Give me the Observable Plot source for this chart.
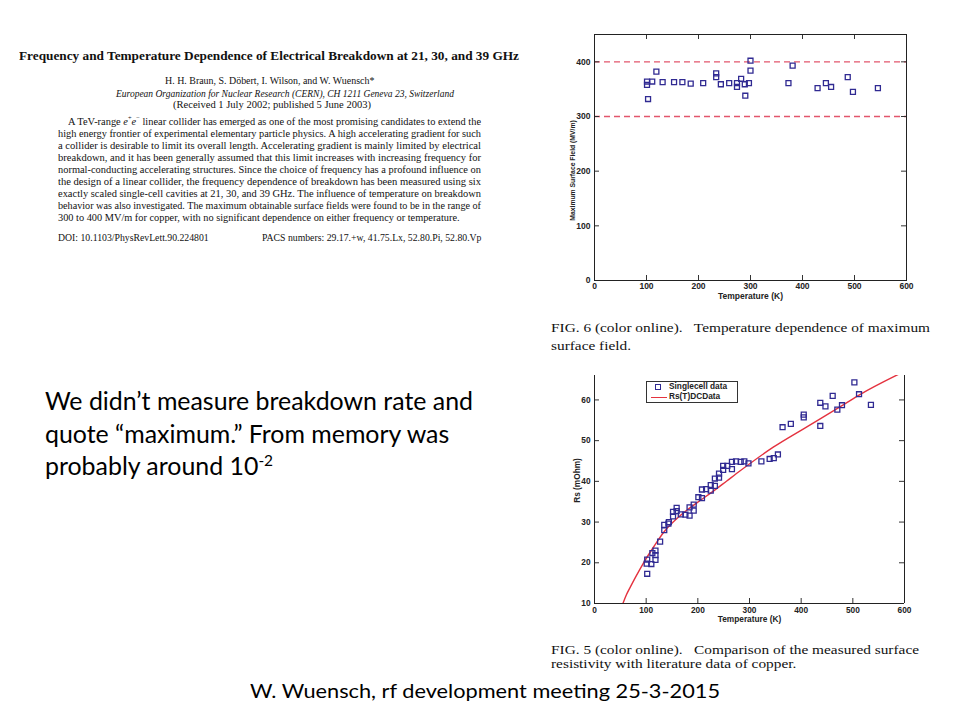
<!DOCTYPE html>
<html>
<head>
<meta charset="utf-8">
<script src="https://cdn.jsdelivr.net/npm/d3@7"></script>
<script src="https://cdn.jsdelivr.net/npm/@observablehq/plot@0.6"></script>
<style>
html, body { margin: 0; padding: 0; background: #fff; }
#slide { position: relative; width: 960px; height: 720px; overflow: hidden; background: #fff; }
.abs { position: absolute; white-space: nowrap; }
.abs sup { font-size: 0.62em; vertical-align: super; line-height: 0; }
.chart { position: absolute; }
#legend { position: absolute; border: 1px solid #333; background: #fff; font-family: "Liberation Sans", Arial, sans-serif; font-weight: bold; font-size: 8.3px; color: #222; }
</style>
</head>
<body>
<div id="slide"></div>
<script>
// ---------- data: Fig. 6 (maximum surface field vs temperature) ----------
const fieldTemp = [101, 101, 103, 111, 119, 131, 153, 169, 185, 209, 234, 234, 243, 259, 274, 274, 282, 289, 290, 297, 300, 300, 373, 381, 429, 445, 455, 487, 497, 545];
const fieldMax  = [364, 358, 332, 364, 382, 363, 363, 363, 360, 361, 379, 372, 359, 361, 361, 354, 369, 359, 338, 361, 402, 384, 361, 393, 352, 361, 354, 372, 345, 352];
const fieldLimits = [300, 400];
const tempTicks = [0, 100, 200, 300, 400, 500, 600];
const fieldTicks = [0, 100, 200, 300, 400];

// ---------- data: Fig. 5 (surface resistivity vs temperature) ----------
const rsTemp  = [102, 101, 102, 110, 112, 118, 118, 118, 127, 135, 135, 143, 144, 152, 152, 159, 159, 167, 176, 184, 184, 192, 192, 201, 208, 208, 216, 225, 225, 233, 233, 241, 241, 249, 249, 257, 266, 266, 274, 283, 290, 298, 323, 339, 347, 355, 364, 380, 405, 405, 437, 437, 447, 461, 470, 479, 503, 512, 535];
const rsValue = [17.3, 19.8, 20.8, 19.7, 22.4, 20.7, 21.9, 23.0, 25.2, 28.0, 29.3, 29.6, 30.0, 31.4, 32.5, 33.5, 32.7, 31.9, 31.8, 31.6, 33.6, 32.8, 34.3, 36.1, 35.9, 38.0, 38.1, 37.7, 39.1, 38.9, 40.7, 40.9, 41.9, 42.8, 43.8, 43.8, 43.0, 44.8, 44.9, 44.8, 44.9, 44.4, 44.9, 45.5, 45.7, 46.6, 53.3, 54.1, 55.7, 56.4, 53.6, 59.3, 58.4, 61.0, 57.6, 58.7, 64.3, 61.4, 58.8];
const curveTemp = [55, 62, 70, 80, 95, 115, 134, 166, 198, 230, 256, 282, 346, 411, 475, 512, 590];
const curveRs   = [10, 12.2, 14.2, 16.6, 20, 24, 27.5, 31.6, 34.7, 37.6, 40.1, 42.6, 48.4, 53.4, 58.3, 61.2, 66.4];
const rsTicks = [10, 20, 30, 40, 50, 60];
const legendLabels = ["Singlecell data", "Rs(T)DCData"];

// ---------- texts ----------
const paperTitle = "Frequency and Temperature Dependence of Electrical Breakdown at 21, 30, and 39 GHz";
const paperAuthors = "H. H. Braun, S. Döbert, I. Wilson, and W. Wuensch*";
const paperAffil = "European Organization for Nuclear Research (CERN), CH 1211 Geneva 23, Switzerland";
const paperDates = "(Received 1 July 2002; published 5 June 2003)";
const abstractLines = [
  "A TeV-range <i>e</i><sup>+</sup><i>e</i><sup>−</sup> linear collider has emerged as one of the most promising candidates to extend the",
  "high energy frontier of experimental elementary particle physics. A high accelerating gradient for such",
  "a collider is desirable to limit its overall length. Accelerating gradient is mainly limited by electrical",
  "breakdown, and it has been generally assumed that this limit increases with increasing frequency for",
  "normal-conducting accelerating structures. Since the choice of frequency has a profound influence on",
  "the design of a linear collider, the frequency dependence of breakdown has been measured using six",
  "exactly scaled single-cell cavities at 21, 30, and 39 GHz. The influence of temperature on breakdown",
  "behavior was also investigated. The maximum obtainable surface fields were found to be in the range of",
  "300 to 400 MV/m for copper, with no significant dependence on either frequency or temperature."
];
const doiText = "DOI: 10.1103/PhysRevLett.90.224801";
const pacsText = "PACS numbers: 29.17.+w, 41.75.Lx, 52.80.Pi, 52.80.Vp";
const fig6Caption = ["FIG. 6 (color online).&nbsp;&nbsp; Temperature dependence of maximum", "surface field."];
const fig5Caption = ["FIG. 5 (color online).&nbsp;&nbsp; Comparison of the measured surface", "resistivity with literature data of copper."];
const noteLines = ["We didn’t measure breakdown rate and", "quote “maximum.” From memory was", "probably around 10<sup>-2</sup>"];
const footerText = "W. Wuensch, rf development meeting 25-3-2015";

const slide = document.getElementById("slide");
const SERIF = '"Liberation Serif", "DejaVu Serif", serif';
const SANS = 'Lato, "Open Sans", "Liberation Sans", sans-serif';

function addText(html, o) {
  const el = document.createElement("div");
  el.className = "abs";
  el.innerHTML = html;
  Object.assign(el.style, {
    fontFamily: o.font, fontSize: o.size + "px", fontWeight: o.weight || "normal",
    fontStyle: o.style || "normal", lineHeight: o.size + "px",
    top: (o.cy - o.size / 2) + "px", color: o.color || "#111", left: "0px"
  });
  slide.appendChild(el);
  const w = el.getBoundingClientRect().width;
  let s = o.scale || 1;
  if (o.fit) s = (o.right - o.left) / w;
  el.style.transformOrigin = "0 0";
  el.style.transform = `scaleX(${s})`;
  if (o.align === "center") el.style.left = (o.cx - w * s / 2) + "px";
  else if (o.align === "right") el.style.left = (o.right - w * s) + "px";
  else el.style.left = o.left + "px";
  return s;
}

// ---------- paper abstract ----------
addText(paperTitle, {font: SERIF, size: 13, weight: "bold", left: 19, right: 519, cy: 55, fit: true});
addText(paperAuthors, {font: SERIF, size: 10.8, cx: 270, cy: 80, align: "center", scale: 0.92});
addText(paperAffil, {font: SERIF, size: 10.5, style: "italic", left: 116, right: 454, cy: 94.5, fit: true});
addText(paperDates, {font: SERIF, size: 10.5, left: 173, right: 371, cy: 105.5, fit: true});
let bodyScale = 1;
abstractLines.forEach((t, i) => {
  const cy = 122 + 12 * i;
  if (i < abstractLines.length - 1) {
    const s = addText(t, {font: SERIF, size: 10.6, left: i === 0 ? 68 : 58, right: 481, cy, fit: true});
    if (i === 1) bodyScale = s;
  } else {
    addText(t, {font: SERIF, size: 10.6, left: 58, cy, scale: bodyScale});
  }
});
addText(doiText, {font: SERIF, size: 10, left: 58, cy: 237.5, scale: bodyScale});
addText(pacsText, {font: SERIF, size: 10, right: 481, cy: 237.5, align: "right", scale: bodyScale});

// ---------- captions ----------
const c6 = addText(fig6Caption[0], {font: SERIF, size: 13.2, left: 551, right: 930, cy: 328, fit: true});
addText(fig6Caption[1], {font: SERIF, size: 13.2, left: 551, cy: 345.5, scale: c6});
const c5 = addText(fig5Caption[0], {font: SERIF, size: 12.6, left: 551, right: 919, cy: 650, fit: true});
addText(fig5Caption[1], {font: SERIF, size: 12.6, left: 551, cy: 664, scale: c5});

// ---------- slide note & footer ----------
const ns = addText(noteLines[0], {font: SANS, size: 25, left: 45, right: 473, cy: 400, fit: true, color: "#000"});
addText(noteLines[1], {font: SANS, size: 25, left: 45, cy: 433, scale: ns, color: "#000"});
addText(noteLines[2], {font: SANS, size: 25, left: 45, cy: 465, scale: ns, color: "#000"});
addText(footerText, {font: SANS, size: 20, left: 250, right: 720, cy: 690, fit: true, color: "#000"});

// ---------- Fig. 6 chart ----------
const SQ = "#302a92";
const fieldData = fieldTemp.map((t, i) => ({t, v: fieldMax[i]}));
const p1 = Plot.plot({
  width: 380, height: 300,
  marginLeft: 54, marginRight: 14, marginTop: 14, marginBottom: 40,
  x: {domain: [0, 600]},
  y: {domain: [0, 450]},
  style: {background: "transparent", fontFamily: '"Liberation Sans", Arial, sans-serif', fontSize: "8.5px", fontWeight: "bold", color: "#222"},
  marks: [
    Plot.ruleY(fieldLimits, {y: d => d, stroke: "#e2566c", strokeWidth: 1.4, strokeDasharray: "6,4"}),
    Plot.tickX(tempTicks, {x: d => d, insetTop: 241, stroke: "#333"}),
    Plot.tickX(tempTicks, {x: d => d, insetBottom: 241, stroke: "#333"}),
    Plot.tickY(fieldTicks, {y: d => d, insetRight: 307, stroke: "#333"}),
    Plot.tickY(fieldTicks, {y: d => d, insetLeft: 307, stroke: "#333"}),
    Plot.frame({stroke: "#222"}),
    Plot.dot(fieldData, {x: "t", y: "v", symbol: "square", r: 2.8, stroke: SQ, strokeWidth: 1.3, fill: "none"}),
    Plot.axisX(tempTicks, {tickSize: 0, tickPadding: 2, label: null}),
    Plot.axisY(fieldTicks, {tickSize: 0, tickPadding: 4, label: null}),
    Plot.text(["Temperature (K)"], {frameAnchor: "bottom", dy: 18, text: d => d}),
    Plot.text(["Maximum Surface Field (MV/m)"], {frameAnchor: "left", textAnchor: "middle", rotate: -90, dx: -22, dy: 13, fontSize: 6.8, text: d => d})
  ]
});
p1.classList.add("chart");
p1.style.left = "540px";
p1.style.top = "20px";
slide.appendChild(p1);

// ---------- Fig. 5 chart ----------
const rsData = rsTemp.map((t, i) => ({t, v: rsValue[i]}));
const curveData = curveTemp.map((t, i) => ({t, v: curveRs[i]}));
const p2 = Plot.plot({
  width: 380, height: 262,
  marginLeft: 54, marginRight: 16, marginTop: 7, marginBottom: 27,
  x: {domain: [0, 600]},
  y: {domain: [10, 66]},
  style: {background: "transparent", fontFamily: '"Liberation Sans", Arial, sans-serif', fontSize: "8.3px", fontWeight: "bold", color: "#222"},
  marks: [
    Plot.tickX(tempTicks, {x: d => d, insetTop: 223, stroke: "#333"}),
    Plot.tickY(rsTicks, {y: d => d, insetRight: 305, stroke: "#333"}),
    Plot.tickY(rsTicks, {y: d => d, insetLeft: 305, stroke: "#333"}),
    Plot.ruleX([0, 600], {x: d => d, stroke: "#222"}),
    Plot.ruleY([10], {y: d => d, stroke: "#222"}),
    Plot.line(curveData, {x: "t", y: "v", stroke: "#e4323f", strokeWidth: 1.4, curve: "monotone-x", clip: true}),
    Plot.dot(rsData, {x: "t", y: "v", symbol: "square", r: 2.8, stroke: SQ, strokeWidth: 1.3, fill: "none"}),
    Plot.axisX(tempTicks, {tickSize: 0, tickPadding: 4, label: null}),
    Plot.axisY(rsTicks, {tickSize: 0, tickPadding: 4, label: null}),
    Plot.text(["Temperature (K)"], {frameAnchor: "bottom", dy: 18, text: d => d}),
    Plot.text(["Rs (mOhm)"], {frameAnchor: "left", textAnchor: "middle", rotate: -90, dx: -17, dy: -9, text: d => d})
  ]
});
p2.classList.add("chart");
p2.style.left = "540px";
p2.style.top = "368px";
slide.appendChild(p2);

// ---------- Fig. 5 legend ----------
const legend = document.createElement("div");
legend.id = "legend";
Object.assign(legend.style, {left: "646px", top: "381px", width: "90px", height: "20px"});
legend.innerHTML =
  `<div style="position:absolute;left:8px;top:2px;width:4px;height:4px;border:1.3px solid ${SQ};"></div>` +
  `<div style="position:absolute;left:22px;top:0px;line-height:9px;">${legendLabels[0]}</div>` +
  `<div style="position:absolute;left:4px;top:14.5px;width:16px;height:0;border-top:1.4px solid #e4323f;"></div>` +
  `<div style="position:absolute;left:22px;top:10px;line-height:9px;">${legendLabels[1]}</div>`;
slide.appendChild(legend);
</script>
</body>
</html>
